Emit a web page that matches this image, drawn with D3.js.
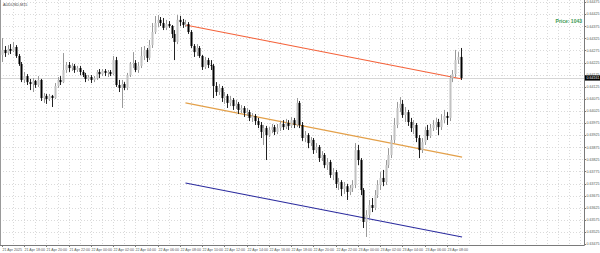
<!DOCTYPE html>
<html>
<head>
<meta charset="utf-8">
<script src="https://cdn.jsdelivr.net/npm/d3@7"></script>
<style>
  html, body { margin: 0; padding: 0; background: #fff; }
  svg { display: block; font-family: "Liberation Sans", Arial, sans-serif; }
</style>
</head>
<body>
<svg id="chart"></svg>
<script>
// AUDUSD M15 candles, bar 0 = 21 Apr 16:00
const openP = [
  0.64256,0.64277,0.64264,0.64281,0.64273,0.64289,0.64252,0.64219,0.64153,0.64169,
  0.64144,0.64136,0.64149,0.64132,0.64153,0.64078,0.64087,0.64074,0.64087,0.64078,
  0.64128,0.64153,0.64144,0.64194,0.64215,0.64202,0.64211,0.64194,0.64202,0.64186,
  0.64173,0.64157,0.64165,0.64153,0.64161,0.64186,0.64177,0.64190,0.64182,0.64186,
  0.64177,0.64235,0.64132,0.64120,0.64136,0.64120,0.64173,0.64219,0.64223,0.64194,
  0.64211,0.64252,0.64277,0.64244,0.64297,0.64351,0.64388,0.64401,0.64388,0.64368,
  0.64384,0.64376,0.64343,0.64310,0.64401,0.64392,0.64380,0.64384,0.64351,0.64293,
  0.64268,0.64285,0.64252,0.64206,0.64235,0.64215,0.64211,0.64128,0.64103,0.64120,
  0.64078,0.64087,0.64058,0.64070,0.64045,0.64054,0.64029,0.64037,0.64016,0.64020,
  0.63996,0.64004,0.63983,0.63967,0.63938,0.63954,0.63925,0.63946,0.63958,0.63938,
  0.63954,0.63971,0.63958,0.63975,0.63963,0.63987,0.63967,0.64058,0.63967,0.63913,
  0.63925,0.63892,0.63905,0.63863,0.63876,0.63830,0.63843,0.63801,0.63814,0.63760,
  0.63772,0.63723,0.63731,0.63702,0.63714,0.63690,0.63706,0.63719,0.63863,0.63822,
  0.63698,0.63566,0.63595,0.63636,0.63624,0.63677,0.63719,0.63748,0.63731,0.63801,
  0.63843,0.63905,0.63967,0.64037,0.64054,0.64008,0.64020,0.63979,0.63954,0.63967,
  0.63913,0.63863,0.63896,0.63946,0.63921,0.63954,0.63967,0.63979,0.63958,0.63987,
  0.64004,0.63996,0.64161,0.64177,0.64235,0.64248
];
const highP = [
  0.64326,0.64293,0.64297,0.64301,0.64310,0.64297,0.64260,0.64227,0.64186,0.64177,
  0.64157,0.64161,0.64153,0.64169,0.64157,0.64099,0.64095,0.64095,0.64091,0.64140,
  0.64165,0.64169,0.64264,0.64227,0.64227,0.64223,0.64219,0.64211,0.64211,0.64194,
  0.64182,0.64173,0.64173,0.64169,0.64194,0.64198,0.64198,0.64198,0.64194,0.64194,
  0.64252,0.64248,0.64153,0.64153,0.64144,0.64182,0.64227,0.64268,0.64235,0.64227,
  0.64289,0.64293,0.64285,0.64318,0.64388,0.64417,0.64421,0.64413,0.64409,0.64401,
  0.64396,0.64380,0.64359,0.64421,0.64417,0.64405,0.64401,0.64392,0.64359,0.64301,
  0.64301,0.64293,0.64256,0.64248,0.64244,0.64235,0.64219,0.64144,0.64136,0.64128,
  0.64103,0.64095,0.64087,0.64078,0.64070,0.64062,0.64049,0.64045,0.64037,0.64029,
  0.64016,0.64012,0.63996,0.63979,0.63967,0.63963,0.63958,0.63971,0.63967,0.63971,
  0.63983,0.63987,0.63992,0.63987,0.64000,0.63996,0.64078,0.64066,0.63979,0.63942,
  0.63933,0.63917,0.63913,0.63892,0.63884,0.63859,0.63851,0.63830,0.63822,0.63789,
  0.63781,0.63748,0.63739,0.63731,0.63723,0.63719,0.63739,0.63892,0.63884,0.63830,
  0.63706,0.63615,0.63657,0.63665,0.63698,0.63739,0.63772,0.63781,0.63822,0.63871,
  0.63925,0.63996,0.64062,0.64082,0.64070,0.64041,0.64029,0.63996,0.63987,0.63975,
  0.63925,0.63913,0.63958,0.63967,0.63971,0.63987,0.63996,0.63992,0.64012,0.64029,
  0.64020,0.64173,0.64194,0.64277,0.64268,0.64285
];
const lowP = [
  0.64227,0.64248,0.64256,0.64260,0.64268,0.64244,0.64211,0.64144,0.64140,0.64132,
  0.64111,0.64103,0.64120,0.64124,0.64066,0.64058,0.64054,0.64066,0.64041,0.64074,
  0.64120,0.64132,0.64140,0.64182,0.64186,0.64190,0.64182,0.64186,0.64173,0.64165,
  0.64144,0.64149,0.64140,0.64144,0.64153,0.64161,0.64169,0.64169,0.64165,0.64169,
  0.64173,0.64124,0.64103,0.64037,0.64111,0.64111,0.64165,0.64202,0.64186,0.64182,
  0.64202,0.64235,0.64227,0.64235,0.64285,0.64343,0.64372,0.64376,0.64359,0.64359,
  0.64368,0.64326,0.64235,0.64301,0.64376,0.64368,0.64372,0.64343,0.64285,0.64248,
  0.64252,0.64244,0.64194,0.64198,0.64202,0.64194,0.64078,0.64087,0.64091,0.64062,
  0.64054,0.64037,0.64045,0.64029,0.64033,0.64012,0.64016,0.64000,0.64004,0.63983,
  0.63979,0.63967,0.63954,0.63913,0.63884,0.63822,0.63917,0.63933,0.63925,0.63929,
  0.63942,0.63946,0.63950,0.63946,0.63954,0.63954,0.63958,0.63954,0.63901,0.63896,
  0.63871,0.63880,0.63847,0.63851,0.63814,0.63818,0.63789,0.63781,0.63748,0.63739,
  0.63706,0.63698,0.63673,0.63682,0.63657,0.63677,0.63690,0.63706,0.63801,0.63677,
  0.63541,0.63504,0.63582,0.63607,0.63615,0.63665,0.63698,0.63714,0.63719,0.63789,
  0.63830,0.63892,0.63954,0.64020,0.63996,0.63979,0.63963,0.63938,0.63929,0.63896,
  0.63830,0.63851,0.63884,0.63905,0.63913,0.63942,0.63946,0.63925,0.63946,0.63975,
  0.63967,0.63983,0.64144,0.64165,0.64219,0.64153
];
const closeP = [
  0.64277,0.64264,0.64281,0.64273,0.64289,0.64252,0.64219,0.64153,0.64169,0.64144,
  0.64136,0.64149,0.64132,0.64153,0.64078,0.64087,0.64074,0.64087,0.64078,0.64128,
  0.64153,0.64144,0.64194,0.64215,0.64202,0.64211,0.64194,0.64202,0.64186,0.64173,
  0.64157,0.64165,0.64153,0.64161,0.64186,0.64177,0.64190,0.64182,0.64186,0.64177,
  0.64235,0.64132,0.64120,0.64136,0.64120,0.64173,0.64219,0.64223,0.64194,0.64211,
  0.64252,0.64277,0.64244,0.64297,0.64351,0.64388,0.64401,0.64388,0.64368,0.64384,
  0.64376,0.64343,0.64310,0.64401,0.64392,0.64380,0.64384,0.64351,0.64293,0.64268,
  0.64285,0.64252,0.64206,0.64235,0.64215,0.64211,0.64128,0.64103,0.64120,0.64078,
  0.64087,0.64058,0.64070,0.64045,0.64054,0.64029,0.64037,0.64016,0.64020,0.63996,
  0.64004,0.63983,0.63967,0.63938,0.63954,0.63925,0.63946,0.63958,0.63938,0.63954,
  0.63971,0.63958,0.63975,0.63963,0.63987,0.63967,0.64058,0.63967,0.63913,0.63925,
  0.63892,0.63905,0.63863,0.63876,0.63830,0.63843,0.63801,0.63814,0.63760,0.63772,
  0.63723,0.63731,0.63702,0.63714,0.63690,0.63706,0.63719,0.63863,0.63822,0.63698,
  0.63566,0.63595,0.63636,0.63624,0.63677,0.63719,0.63748,0.63731,0.63801,0.63843,
  0.63905,0.63967,0.64037,0.64054,0.64008,0.64020,0.63979,0.63954,0.63967,0.63913,
  0.63863,0.63896,0.63946,0.63921,0.63954,0.63967,0.63979,0.63958,0.63987,0.64004,
  0.63996,0.64161,0.64177,0.64235,0.64248,0.64161
];

// time axis labels (every 8 bars = 2 hours)
const timeLabels = [
  "21 Apr 2025","21 Apr 18:00","21 Apr 20:00","21 Apr 22:00","22 Apr 00:00",
  "22 Apr 02:00","22 Apr 04:00","22 Apr 06:00","22 Apr 08:00","22 Apr 10:00",
  "22 Apr 12:00","22 Apr 14:00","22 Apr 16:00","22 Apr 18:00","22 Apr 20:00",
  "22 Apr 22:00","23 Apr 00:00","23 Apr 02:00","23 Apr 04:00","23 Apr 06:00",
  "23 Apr 08:00"
];
const timeLabelBars = [0,8,16,24,32,40,48,56,64,72,80,88,96,104,112,120,128,136,144,152,160];

// price axis labels
const priceTicks = [
  0.63475,0.63525,0.63575,0.63625,0.63675,0.63725,0.63775,0.63825,0.63875,0.63925,
  0.63975,0.64025,0.64075,0.64125,0.64175,0.64225,0.64275,0.64325,0.64375,0.64425,0.64475
];

// trend lines: [bar, price] at each end
const lineNames = ["upper", "middle", "lower"];
const lineStart = [[66, 0.64380], [66, 0.64058], [66, 0.63727]];
const lineEnd = [[165.5, 0.64157], [165.5, 0.63834], [165.5, 0.63504]];
const lineColors = ["#f4623a", "#e3a04a", "#2b2b9e"];

const width = 600;
const height = 253;
const plotRight = 584;
const plotBottom = 245;

const svg = d3.select("#chart")
  .attr("width", width)
  .attr("height", height)
  .attr("viewBox", `0 0 ${width} ${height}`);

svg.append("rect")
  .attr("width", width).attr("height", height)
  .attr("fill", "#fff");

const x = d3.scaleLinear().domain([0, 165]).range([2, 460.7]);
const y = d3.scaleLinear().domain([0.63475, 0.64475]).range([244, 2]);

const candles = d3.range(closeP.length).map(i => ({
  i, o: openP[i], h: highP[i], l: lowP[i], c: closeP[i]
}));

// grid
const grid = svg.append("g");
grid.selectAll("line.v")
  .data(d3.range(4, 210, 4))
  .enter().append("line")
  .attr("x1", d => Math.round(x(d)) + 0.5)
  .attr("x2", d => Math.round(x(d)) + 0.5)
  .attr("y1", 0).attr("y2", plotBottom)
  .attr("stroke", "#dadada")
  .attr("stroke-dasharray", "1,2");

grid.selectAll("line.h")
  .data(priceTicks.slice(1))
  .enter().append("line")
  .attr("x1", 0).attr("x2", plotRight)
  .attr("y1", d => Math.round(y(d)) + 0.5)
  .attr("y2", d => Math.round(y(d)) + 0.5)
  .attr("stroke", "#dadada")
  .attr("stroke-dasharray", "1,2");

// bid line
const last = candles[candles.length - 1];
svg.append("line")
  .attr("x1", 0).attr("x2", plotRight)
  .attr("y1", Math.round(y(last.c)) + 0.5)
  .attr("y2", Math.round(y(last.c)) + 0.5)
  .attr("stroke", "#d6d6d6");

// trend lines
svg.append("g").selectAll("line")
  .data(lineNames)
  .enter().append("line")
  .attr("x1", (d, k) => x(lineStart[k][0]))
  .attr("y1", (d, k) => y(lineStart[k][1]))
  .attr("x2", (d, k) => x(lineEnd[k][0]))
  .attr("y2", (d, k) => y(lineEnd[k][1]))
  .attr("stroke", (d, k) => lineColors[k])
  .attr("stroke-width", 1.1);

// candles
const cg = svg.append("g")
  .selectAll("g")
  .data(candles)
  .enter().append("g");

cg.append("line")
  .attr("x1", d => Math.round(x(d.i)) + 0.5)
  .attr("x2", d => Math.round(x(d.i)) + 0.5)
  .attr("y1", d => y(d.h))
  .attr("y2", d => y(d.l))
  .attr("stroke", d => d.c >= d.o ? "#9a9a9a" : "#222");

cg.append("rect")
  .attr("x", d => Math.round(x(d.i)) - 0.5)
  .attr("width", 2)
  .attr("y", d => y(Math.max(d.o, d.c)))
  .attr("height", d => Math.max(1, Math.abs(y(d.o) - y(d.c))))
  .attr("fill", d => d.c >= d.o ? "#c2c2c2" : "#000");

// frame
svg.append("line")
  .attr("x1", plotRight + 0.5).attr("x2", plotRight + 0.5)
  .attr("y1", 0).attr("y2", plotBottom + 0.5)
  .attr("stroke", "#7a7a7a");
svg.append("line")
  .attr("x1", 0).attr("x2", plotRight + 0.5)
  .attr("y1", plotBottom + 0.5).attr("y2", plotBottom + 0.5)
  .attr("stroke", "#7a7a7a");
svg.append("line")
  .attr("x1", 0.5).attr("x2", 0.5)
  .attr("y1", 0).attr("y2", plotBottom)
  .attr("stroke", "#9a9a9a");

// price axis
const fmt = d3.format(".5f");
const pAxis = svg.append("g");
pAxis.selectAll("line")
  .data(priceTicks)
  .enter().append("line")
  .attr("x1", plotRight).attr("x2", plotRight + 2)
  .attr("y1", d => Math.round(y(d)) + 0.5)
  .attr("y2", d => Math.round(y(d)) + 0.5)
  .attr("stroke", "#7a7a7a");
pAxis.selectAll("text")
  .data(priceTicks)
  .enter().append("text")
  .attr("x", 586.5)
  .attr("y", d => y(d) + 1.3)
  .attr("font-size", 3.6)
  .attr("fill", "#555")
  .text(d => fmt(d));

// current price marker
svg.append("rect")
  .attr("x", 585).attr("y", y(last.c) - 2.6)
  .attr("width", 15).attr("height", 5.2)
  .attr("fill", "#000");
svg.append("text")
  .attr("x", 586.5).attr("y", y(last.c) + 1.3)
  .attr("font-size", 3.6)
  .attr("fill", "#fff")
  .text(fmt(last.c));

// time axis
const tAxis = svg.append("g");
tAxis.selectAll("line")
  .data(timeLabelBars)
  .enter().append("line")
  .attr("x1", d => Math.round(x(d)) + 0.5)
  .attr("x2", d => Math.round(x(d)) + 0.5)
  .attr("y1", plotBottom).attr("y2", plotBottom + 2)
  .attr("stroke", "#7a7a7a");
tAxis.selectAll("text")
  .data(timeLabels)
  .enter().append("text")
  .attr("x", (d, k) => Math.round(x(timeLabelBars[k])) + 0.5)
  .attr("y", 251)
  .attr("font-size", 3.6)
  .attr("fill", "#555")
  .text(d => d);

// title and note
svg.append("text")
  .attr("x", 3).attr("y", 5.5)
  .attr("font-size", 3.8)
  .attr("fill", "#444")
  .text("AUDUSD,M15");

svg.append("text")
  .attr("x", 582).attr("y", 23)
  .attr("text-anchor", "end")
  .attr("font-size", 5)
  .attr("font-weight", "bold")
  .attr("fill", "#3c9a52")
  .text("Price: 1043");
</script>
</body>
</html>
